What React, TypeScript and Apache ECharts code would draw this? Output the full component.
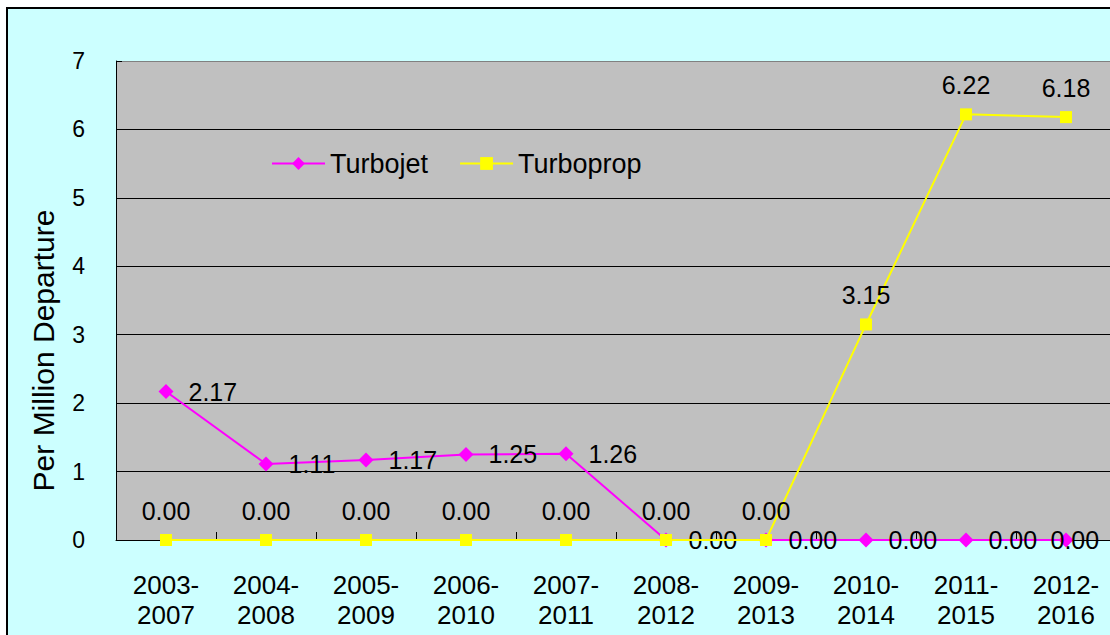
import React, { useEffect, useRef } from "react";
import * as echarts from "echarts";

const categories = [
  "2003-\n2007", "2004-\n2008", "2005-\n2009", "2006-\n2010", "2007-\n2011",
  "2008-\n2012", "2009-\n2013", "2010-\n2014", "2011-\n2015", "2012-\n2016",
];
const turbojet = [2.17, 1.11, 1.17, 1.25, 1.26, 0.0, 0.0, 0.0, 0.0, 0.0];
const turboprop = [0.0, 0.0, 0.0, 0.0, 0.0, 0.0, 0.0, 3.15, 6.22, 6.18];
const yTicks = { min: 0, max: 7, interval: 1 };

const FONT = "'Liberation Sans', Arial, sans-serif";

export default function App() {
  const ref = useRef<HTMLDivElement>(null);
  useEffect(() => {
    if (!ref.current) return;
    const chart = echarts.init(ref.current, undefined, { renderer: "svg" });
    const fmt = (p: any) => Number(p.value).toFixed(2);
    const jetData = turbojet.map((v, i) =>
      i === turbojet.length - 1
        ? { value: v, label: { position: [-8, 7], align: "left", verticalAlign: "middle" } }
        : v
    );
    chart.setOption({
      animation: false,
      backgroundColor: "#ffffff",
      textStyle: { fontFamily: FONT },
      graphic: [
        {
          type: "rect",
          z: -100,
          shape: { x: 7, y: 8, width: 1300, height: 800 },
          style: { fill: "#CCFFFF", stroke: "#000000", lineWidth: 2 },
        },
      ],
      legend: {
        left: 271,
        top: 150,
        padding: 0,
        itemWidth: 53,
        itemHeight: 16,
        itemGap: 31,
        textStyle: { fontSize: 27, color: "#000", fontFamily: FONT },
        data: ["Turbojet", "Turboprop"],
      },
      grid: {
        left: 116,
        top: 61,
        width: 1000,
        height: 479,
        show: true,
        backgroundColor: "#C0C0C0",
        borderWidth: 0,
      },
      xAxis: {
        type: "category",
        data: categories,
        axisLine: { show: true, lineStyle: { color: "#000", width: 1 } },
        axisTick: { show: true, inside: true, length: 8, lineStyle: { color: "#000" } },
        axisLabel: {
          fontSize: 26,
          color: "#000",
          fontFamily: FONT,
          lineHeight: 30,
          margin: 30,
          interval: 0,
        },
        splitLine: { show: false },
      },
      yAxis: {
        type: "value",
        min: yTicks.min,
        max: yTicks.max,
        interval: yTicks.interval,
        name: "Per Million Departure",
        nameLocation: "middle",
        nameGap: 58,
        nameTextStyle: {
          fontSize: 30,
          color: "#000",
          fontFamily: FONT,
          padding: [0, 100, 0, 0],
        },
        axisLine: { show: true, lineStyle: { color: "#000", width: 1 } },
        axisTick: { show: true, inside: true, length: 6, lineStyle: { color: "#000" } },
        axisLabel: { fontSize: 23, color: "#000", fontFamily: FONT, margin: 31 },
        splitLine: {
          show: true,
          lineStyle: {
            color: ["#000", "#000", "#000", "#000", "#000", "#000", "#000", "#808080"],
            width: 1,
          },
        },
      },
      series: [
        {
          name: "Turbojet",
          type: "line",
          data: jetData,
          symbol: "diamond",
          symbolSize: 15,
          lineStyle: { color: "#FF00FF", width: 2 },
          itemStyle: { color: "#FF00FF" },
          label: {
            show: true,
            position: "right",
            distance: 15,
            formatter: fmt,
            fontSize: 25,
            color: "#000",
            fontFamily: FONT,
          },
          z: 2,
        },
        {
          name: "Turboprop",
          type: "line",
          data: turboprop,
          symbol: "rect",
          symbolSize: 12,
          lineStyle: { color: "#FFFF00", width: 2 },
          itemStyle: { color: "#FFFF00" },
          label: {
            show: true,
            position: "top",
            distance: 11,
            formatter: fmt,
            fontSize: 25,
            color: "#000",
            fontFamily: FONT,
          },
          z: 3,
        },
      ],
    });
    return () => chart.dispose();
  }, []);
  return (
    <div
      style={{
        position: "absolute",
        left: 0,
        top: 0,
        width: 1110,
        height: 635,
        overflow: "hidden",
      }}
    >
      <div ref={ref} style={{ width: 1150, height: 635 }} />
    </div>
  );
}
